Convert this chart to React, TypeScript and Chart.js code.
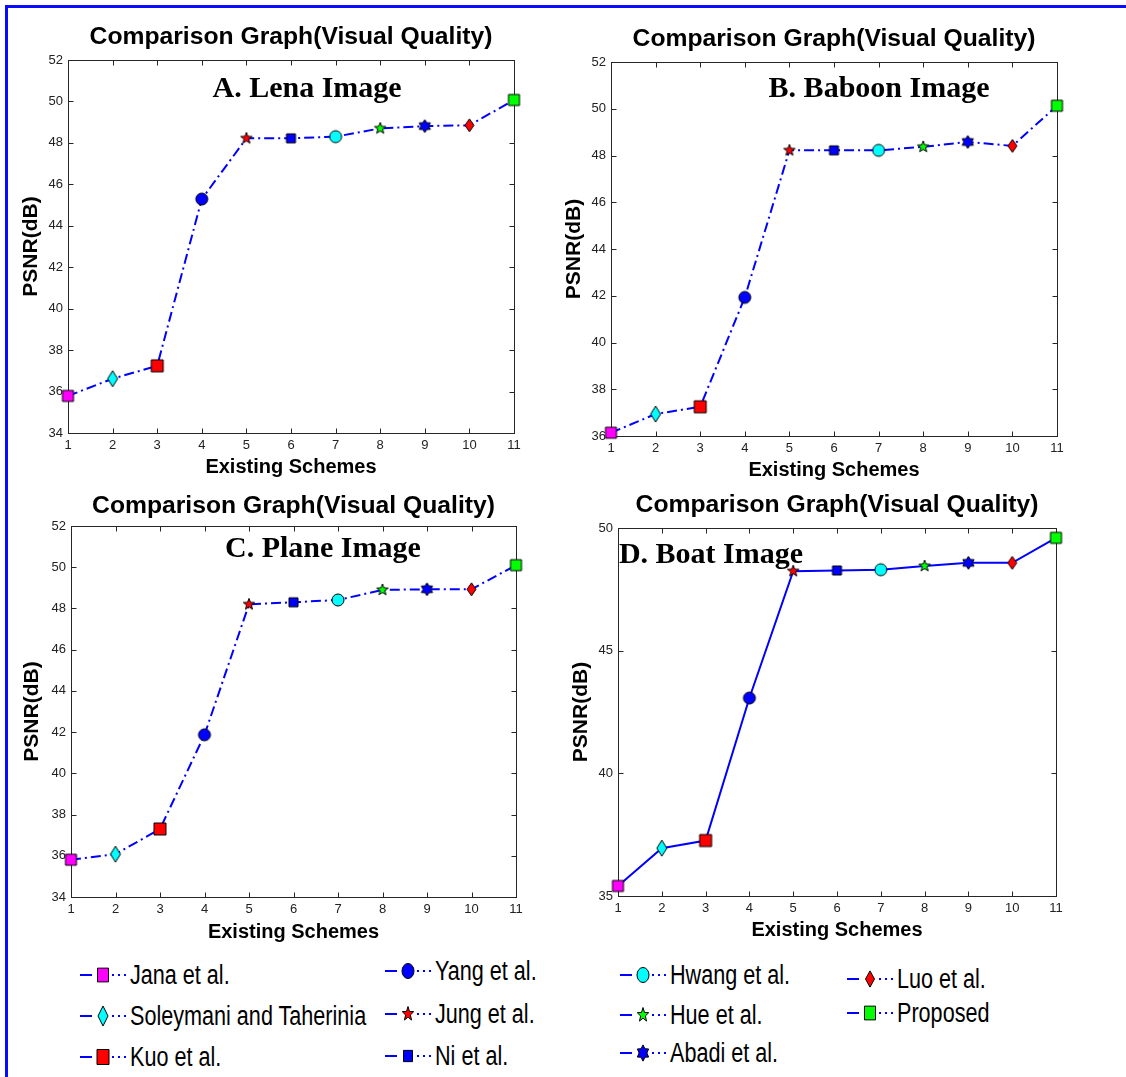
import React, { useEffect, useRef } from 'react';
import { Chart, registerables } from 'chart.js';

Chart.register(...registerables);
Chart.defaults.font.family = "'Liberation Sans', Arial, Helvetica, sans-serif";

// ---------------- data ----------------
const schemeLabels = [
  'Jana et al.',
  'Soleymani and Taherinia',
  'Kuo et al.',
  'Yang et al.',
  'Jung et al.',
  'Ni et al.',
  'Hwang et al.',
  'Hue et al.',
  'Abadi et al.',
  'Luo et al.',
  'Proposed',
];
const xLabels = ['1', '2', '3', '4', '5', '6', '7', '8', '9', '10', '11'];

const lenaPSNR = [35.79, 36.62, 37.24, 45.29, 48.22, 48.22, 48.3, 48.7, 48.81, 48.85, 50.07];
const baboonPSNR = [36.14, 36.94, 37.25, 41.93, 48.22, 48.22, 48.22, 48.37, 48.58, 48.41, 50.13];
const planePSNR = [35.81, 36.08, 37.3, 41.87, 48.2, 48.3, 48.41, 48.9, 48.93, 48.93, 50.1];
const boatPSNR = [35.41, 36.95, 37.26, 43.07, 48.24, 48.27, 48.3, 48.45, 48.58, 48.58, 49.6];

const lenaYRange = [34, 52, 2];
const baboonYRange = [36, 52, 2];
const planeYRange = [34, 52, 2];
const boatYRange = [35, 50, 5];

const chartTitle = 'Comparison Graph(Visual Quality)';
const xAxisTitle = 'Existing Schemes';
const yAxisTitle = 'PSNR(dB)';

// ---------------- marker styles ----------------
type MarkerSpec = { shape: string; fill: string; w: number; h: number };
const MARKERS: MarkerSpec[] = [
  { shape: 'square', fill: '#ff00ff', w: 11, h: 11 },
  { shape: 'diamond', fill: '#00ffff', w: 10, h: 16 },
  { shape: 'square', fill: '#ff0000', w: 12, h: 12 },
  { shape: 'circle', fill: '#0000ff', w: 12, h: 12 },
  { shape: 'star5', fill: '#ff0000', w: 12, h: 12 },
  { shape: 'square', fill: '#0000ff', w: 9, h: 9 },
  { shape: 'circle', fill: '#00ffff', w: 12, h: 12 },
  { shape: 'star5', fill: '#00ff00', w: 12, h: 12 },
  { shape: 'star6', fill: '#0000ff', w: 13, h: 13 },
  { shape: 'diamond', fill: '#ff0000', w: 9, h: 13 },
  { shape: 'square', fill: '#00ff00', w: 11, h: 11 },
];

function traceMarker(ctx: CanvasRenderingContext2D, spec: MarkerSpec, cx: number, cy: number) {
  const { shape, w, h } = spec;
  ctx.beginPath();
  if (shape === 'square') {
    ctx.rect(cx - w / 2, cy - h / 2, w, h);
  } else if (shape === 'circle') {
    ctx.ellipse(cx, cy, w / 2, h / 2, 0, 0, Math.PI * 2);
  } else if (shape === 'diamond') {
    ctx.moveTo(cx, cy - h / 2);
    ctx.lineTo(cx + w / 2, cy);
    ctx.lineTo(cx, cy + h / 2);
    ctx.lineTo(cx - w / 2, cy);
    ctx.closePath();
  } else {
    const n = shape === 'star5' ? 5 : 6;
    const R = w / 2;
    const r = n === 5 ? R * 0.42 : R * 0.6;
    for (let k = 0; k < 2 * n; k++) {
      const a = -Math.PI / 2 + (k * Math.PI) / n;
      const rad = k % 2 === 0 ? R : r;
      const px = cx + rad * Math.cos(a);
      const py = cy + rad * Math.sin(a);
      if (k === 0) ctx.moveTo(px, py);
      else ctx.lineTo(px, py);
    }
    ctx.closePath();
  }
}

function makeMarkerCanvas(spec: MarkerSpec): HTMLCanvasElement {
  const c = document.createElement('canvas');
  c.width = Math.ceil(spec.w) + 4;
  c.height = Math.ceil(spec.h) + 4;
  const ctx = c.getContext('2d')!;
  traceMarker(ctx, spec, c.width / 2, c.height / 2);
  ctx.fillStyle = spec.fill;
  ctx.fill();
  ctx.lineWidth = 1;
  ctx.strokeStyle = '#000';
  ctx.stroke();
  return c;
}

// ---------------- plugin: MATLAB-like frame, title, panel label ----------------
const matlabFrame = {
  id: 'matlabFrame',
  beforeDatasetsDraw(chart: any) {
    const { ctx, chartArea } = chart;
    const { left, right, top, bottom } = chartArea;
    const xs = chart.scales.x;
    const ys = chart.scales.y;
    ctx.save();
    ctx.strokeStyle = '#262626';
    ctx.lineWidth = 1;
    const L = Math.round(left) + 0.5;
    const R = Math.round(right) + 0.5;
    const T = Math.round(top) + 0.5;
    const B = Math.round(bottom) + 0.5;
    ctx.strokeRect(L, T, R - L, B - T);
    const tl = 5;
    ctx.beginPath();
    xs.ticks.forEach((_: any, i: number) => {
      const px = Math.round(xs.getPixelForTick(i)) + 0.5;
      ctx.moveTo(px, B);
      ctx.lineTo(px, B - tl);
      ctx.moveTo(px, T);
      ctx.lineTo(px, T + tl);
    });
    ys.ticks.forEach((_: any, i: number) => {
      const py = Math.round(ys.getPixelForTick(i)) + 0.5;
      ctx.moveTo(L, py);
      ctx.lineTo(L + tl, py);
      ctx.moveTo(R, py);
      ctx.lineTo(R - tl, py);
    });
    ctx.stroke();
    ctx.restore();
  },
  afterDraw(chart: any, _args: any, opts: any) {
    const { ctx, chartArea } = chart;
    ctx.save();
    // title centred over the plot area
    ctx.fillStyle = '#000';
    ctx.font = "bold 24.7px 'Liberation Sans', Arial, sans-serif";
    ctx.textAlign = 'center';
    ctx.textBaseline = 'middle';
    ctx.fillText(opts.title, (chartArea.left + chartArea.right) / 2, opts.titleY);
    // panel label (e.g. "A. Lena Image")
    const xs = chart.scales.x;
    const ys = chart.scales.y;
    ctx.font = "bold 30px 'Liberation Serif', 'Times New Roman', serif";
    ctx.textAlign = opts.labelAlign;
    ctx.textBaseline = 'alphabetic';
    ctx.fillText(opts.label, xs.getPixelForValue(opts.labelX), ys.getPixelForValue(opts.labelY));
    ctx.restore();
  },
};

// ---------------- panel layout ----------------
type PanelCfg = {
  data: number[];
  yRange: number[];
  dashed: boolean;
  label: string;
  labelX: number;
  labelY: number;
  labelAlign: string;
  left: number;
  top: number;
  w: number;
  h: number;
  padTop: number;
  padRight: number;
  titleY: number;
  yAxisW: number;
  yTitlePad: number;
  xAxisH: number;
  xTitlePad: number;
};

const PANELS: PanelCfg[] = [
  {
    data: lenaPSNR, yRange: lenaYRange, dashed: true, label: 'A. Lena Image', labelX: 5.36, labelY: 50.21, labelAlign: 'center',
    left: 0, top: 0, w: 560, h: 480, padTop: 60, padRight: 46, titleY: 37, yAxisW: 68, yTitlePad: 19, xAxisH: 47, xTitlePad: 3,
  },
  {
    data: baboonPSNR, yRange: baboonYRange, dashed: true, label: 'B. Baboon Image', labelX: 6.01, labelY: 50.5, labelAlign: 'center',
    left: 560, top: 0, w: 566, h: 480, padTop: 62, padRight: 69, titleY: 39, yAxisW: 51, yTitlePad: 2, xAxisH: 44, xTitlePad: 0,
  },
  {
    data: planePSNR, yRange: planeYRange, dashed: true, label: 'C. Plane Image', labelX: 5.66, labelY: 50.5, labelAlign: 'center',
    left: 0, top: 480, w: 560, h: 470, padTop: 46, padRight: 44, titleY: 26, yAxisW: 71, yTitlePad: 20, xAxisH: 53, xTitlePad: 8,
  },
  {
    data: boatPSNR, yRange: boatYRange, dashed: false, label: 'D. Boat Image', labelX: 0.02, labelY: 48.57, labelAlign: 'left',
    left: 560, top: 480, w: 566, h: 470, padTop: 48, padRight: 70, titleY: 25, yAxisW: 58, yTitlePad: 9, xAxisH: 54, xTitlePad: 10,
  },
];

function Panel({ cfg }: { cfg: PanelCfg }) {
  const ref = useRef<HTMLCanvasElement>(null);
  useEffect(() => {
    const markers = MARKERS.map(makeMarkerCanvas);
    const chart = new Chart(ref.current!, {
      type: 'line',
      data: {
        labels: xLabels,
        datasets: [
          {
            label: 'PSNR',
            data: cfg.data,
            borderColor: '#0000ff',
            borderWidth: 2,
            borderDash: cfg.dashed ? [10, 4, 2, 4] : [],
            tension: 0,
            fill: false,
            pointStyle: markers as any,
            pointRadius: 6,
            pointHoverRadius: 6,
            clip: false as any,
          },
        ],
      },
      options: {
        responsive: false,
        animation: false,
        devicePixelRatio: 1,
        events: [],
        layout: { padding: { left: 0, right: cfg.padRight, top: cfg.padTop, bottom: 0 } },
        plugins: {
          legend: { display: false },
          tooltip: { enabled: false },
          title: { display: false },
          matlabFrame: {
            title: chartTitle,
            titleY: cfg.titleY,
            label: cfg.label,
            labelX: cfg.labelX,
            labelY: cfg.labelY,
            labelAlign: cfg.labelAlign,
          },
        } as any,
        scales: {
          x: {
            type: 'category',
            offset: false,
            grid: { display: false, drawTicks: false },
            border: { display: false },
            ticks: { color: '#222', font: { size: 13 }, padding: 5, autoSkip: false, maxRotation: 0 },
            title: {
              display: true,
              text: xAxisTitle,
              color: '#000',
              font: { size: 20, weight: 'bold', lineHeight: 1 },
              padding: { top: 0, bottom: cfg.xTitlePad },
            },
            afterFit: (s: any) => {
              s.height = cfg.xAxisH;
            },
          },
          y: {
            type: 'linear',
            min: cfg.yRange[0],
            max: cfg.yRange[1],
            grid: { display: false, drawTicks: false },
            border: { display: false },
            ticks: { stepSize: cfg.yRange[2], color: '#222', font: { size: 13 }, padding: 5 },
            title: {
              display: true,
              text: yAxisTitle,
              color: '#000',
              font: { size: 21, weight: 'bold', lineHeight: 1.2 },
              padding: { top: cfg.yTitlePad, bottom: 0 },
            },
            afterFit: (s: any) => {
              s.width = cfg.yAxisW;
            },
          },
        } as any,
      },
      plugins: [matlabFrame as any],
    });
    return () => chart.destroy();
  }, [cfg]);
  return (
    <canvas
      ref={ref}
      width={cfg.w}
      height={cfg.h}
      style={{ position: 'absolute', left: cfg.left, top: cfg.top, width: cfg.w, height: cfg.h }}
    />
  );
}

// ---------------- legend ----------------
const LEGEND_POS = [
  [80, 975], [80, 1016], [80, 1057],
  [385, 971], [385, 1014], [385, 1056],
  [620, 975], [620, 1015], [620, 1053],
  [847, 979], [847, 1013],
];

function LegendMarker({ spec }: { spec: MarkerSpec }) {
  const ref = useRef<HTMLCanvasElement>(null);
  useEffect(() => {
    const c = ref.current!;
    const ctx = c.getContext('2d')!;
    ctx.clearRect(0, 0, c.width, c.height);
    ctx.save();
    ctx.translate(c.width / 2, c.height / 2);
    ctx.scale(1, 1.25);
    traceMarker(ctx, spec, 0, 0);
    ctx.restore();
    ctx.fillStyle = spec.fill;
    ctx.fill();
    ctx.lineWidth = 1;
    ctx.strokeStyle = '#000';
    ctx.stroke();
  }, [spec]);
  return (
    <canvas ref={ref} width={18} height={24} style={{ position: 'absolute', left: 14, top: -12 }} />
  );
}

function LegendItem({ idx }: { idx: number }) {
  const [x, y] = LEGEND_POS[idx];
  return (
    <div style={{ position: 'absolute', left: x, top: y, width: 0, height: 0 }}>
      <svg width={48} height={10} style={{ position: 'absolute', left: 0, top: -5 }}>
        <line x1={0} y1={5} x2={12} y2={5} stroke="#0000ff" strokeWidth={2} />
        <line x1={32} y1={5} x2={34} y2={5} stroke="#0000ff" strokeWidth={2} />
        <line x1={38} y1={5} x2={40} y2={5} stroke="#0000ff" strokeWidth={2} />
        <line x1={44} y1={5} x2={46} y2={5} stroke="#0000ff" strokeWidth={2} />
      </svg>
      <LegendMarker spec={MARKERS[idx]} />
      <span
        style={{
          position: 'absolute',
          left: 50,
          top: 0,
          transform: 'translateY(-50%) scaleX(0.8)',
          transformOrigin: 'left center',
          whiteSpace: 'nowrap',
          fontFamily: "'Liberation Sans', Arial, sans-serif",
          fontSize: 27,
          lineHeight: 1,
          color: '#000',
        }}
      >
        {schemeLabels[idx]}
      </span>
    </div>
  );
}

export default function App() {
  return (
    <div
      style={{
        position: 'absolute',
        left: 0,
        top: 0,
        width: 1126,
        height: 1077,
        background: '#fff',
        overflow: 'hidden',
      }}
    >
      <div
        style={{
          position: 'absolute',
          left: 5,
          top: 5,
          width: 1126,
          height: 1077,
          borderTop: '3px solid #0a0aff',
          borderLeft: '3px solid #0a0aff',
        }}
      />
      {PANELS.map((p, i) => (
        <Panel key={i} cfg={p} />
      ))}
      {schemeLabels.map((_, i) => (
        <LegendItem key={i} idx={i} />
      ))}
    </div>
  );
}
